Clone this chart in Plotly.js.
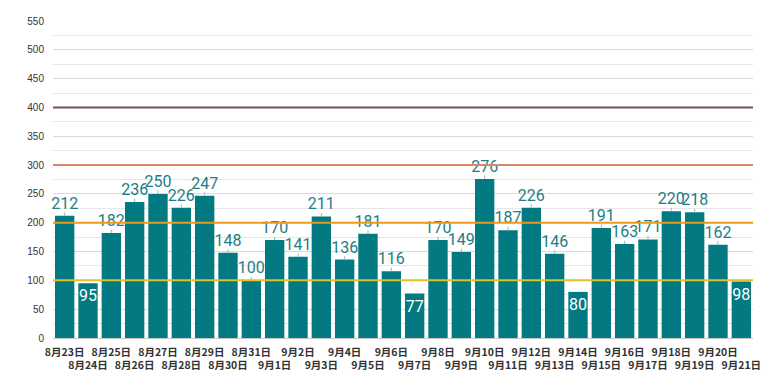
<!DOCTYPE html>
<html>
<head>
<meta charset="utf-8">
<script src="https://cdn.plot.ly/plotly-3.0.1.min.js"></script>
<style>html,body{margin:0;padding:0;background:#fff;}#chart{width:780px;height:390px;}</style>
</head>
<body>
<div id="chart"></div>
<script>
const categories = ["8月23日","8月24日","8月25日","8月26日","8月27日","8月28日","8月29日","8月30日","8月31日",
  "9月1日","9月2日","9月3日","9月4日","9月5日","9月6日","9月7日","9月8日","9月9日","9月10日",
  "9月11日","9月12日","9月13日","9月14日","9月15日","9月16日","9月17日","9月18日","9月19日","9月20日","9月21日"];
const values = [212,95,182,236,250,226,247,148,100,170,141,211,136,181,116,77,170,149,276,187,226,146,80,191,163,171,220,218,162,98];
const thresholds = [400,300,200,100];
const thresholdColors = ["#7a4f5e","#d8876c","#ec9a1e","#e2c229"];
const yTicks = [0,50,100,150,200,250,300,350,400,450,500,550];

const x = categories.map((c,i)=>i);
const tickText = categories.map((c,i)=> i%2===0 ? c : "&nbsp;<br>"+c);
const inside = values.map(v => v < 100);

const trace = {
  type: "bar",
  x: x,
  y: values,
  marker: {color: "#037a82"},
  text: values.map(String),
  textposition: inside.map(b => b ? "inside" : "outside"),
  insidetextanchor: "end",
  insidetextfont: {color: "#ffffff", size: 16, family: "Roboto, sans-serif"},
  outsidetextfont: {color: "#1d7e85", size: 16, family: "Roboto, sans-serif"},
  textangle: 0,
  constraintext: "none",
  cliponaxis: false,
  error_y: {type: "data", symmetric: false, array: inside.map(b => b ? 0 : 6), arrayminus: values.map(()=>0),
            color: "#9bb8ba", thickness: 1, width: 0},
  hoverinfo: "none"
};

const shapes = thresholds.map((t,i)=>({
  type: "line", xref: "paper", x0: 0, x1: 1, yref: "y", y0: t, y1: t,
  line: {color: thresholdColors[i], width: 2}, layer: "above"
}));

const layout = {
  width: 780, height: 390,
  margin: {l: 53, r: 27, t: 21, b: 52},
  paper_bgcolor: "#fff", plot_bgcolor: "#fff",
  bargap: 0.17,
  showlegend: false,
  xaxis: {
    tickmode: "array", tickvals: x, ticktext: tickText,
    range: [-0.5, categories.length - 0.5],
    showgrid: false, zeroline: false, showline: false, ticks: "",
    tickfont: {size: 10.5, color: "#333", family: "Noto Sans CJK JP, sans-serif", weight: "bold"},
    tickangle: 0, automargin: false, ticklabelstandoff: 6
  },
  yaxis: {
    range: [0, 550], tickmode: "array", tickvals: yTicks,
    gridcolor: "#d9d9d9", gridwidth: 1,
    minor: {dtick: 25, showgrid: true, gridcolor: "#e6e6e6", gridwidth: 1, ticks: ""},
    zeroline: true, zerolinecolor: "#c8c8c8", zerolinewidth: 1,
    showline: false, ticks: "",
    tickfont: {size: 10, color: "#333", family: "Liberation Sans, Arial, sans-serif"},
    automargin: false, ticklabelstandoff: 8
  },
  shapes: shapes
};

Plotly.newPlot("chart", [trace], layout, {displayModeBar: false, staticPlot: true});
</script>
</body>
</html>
